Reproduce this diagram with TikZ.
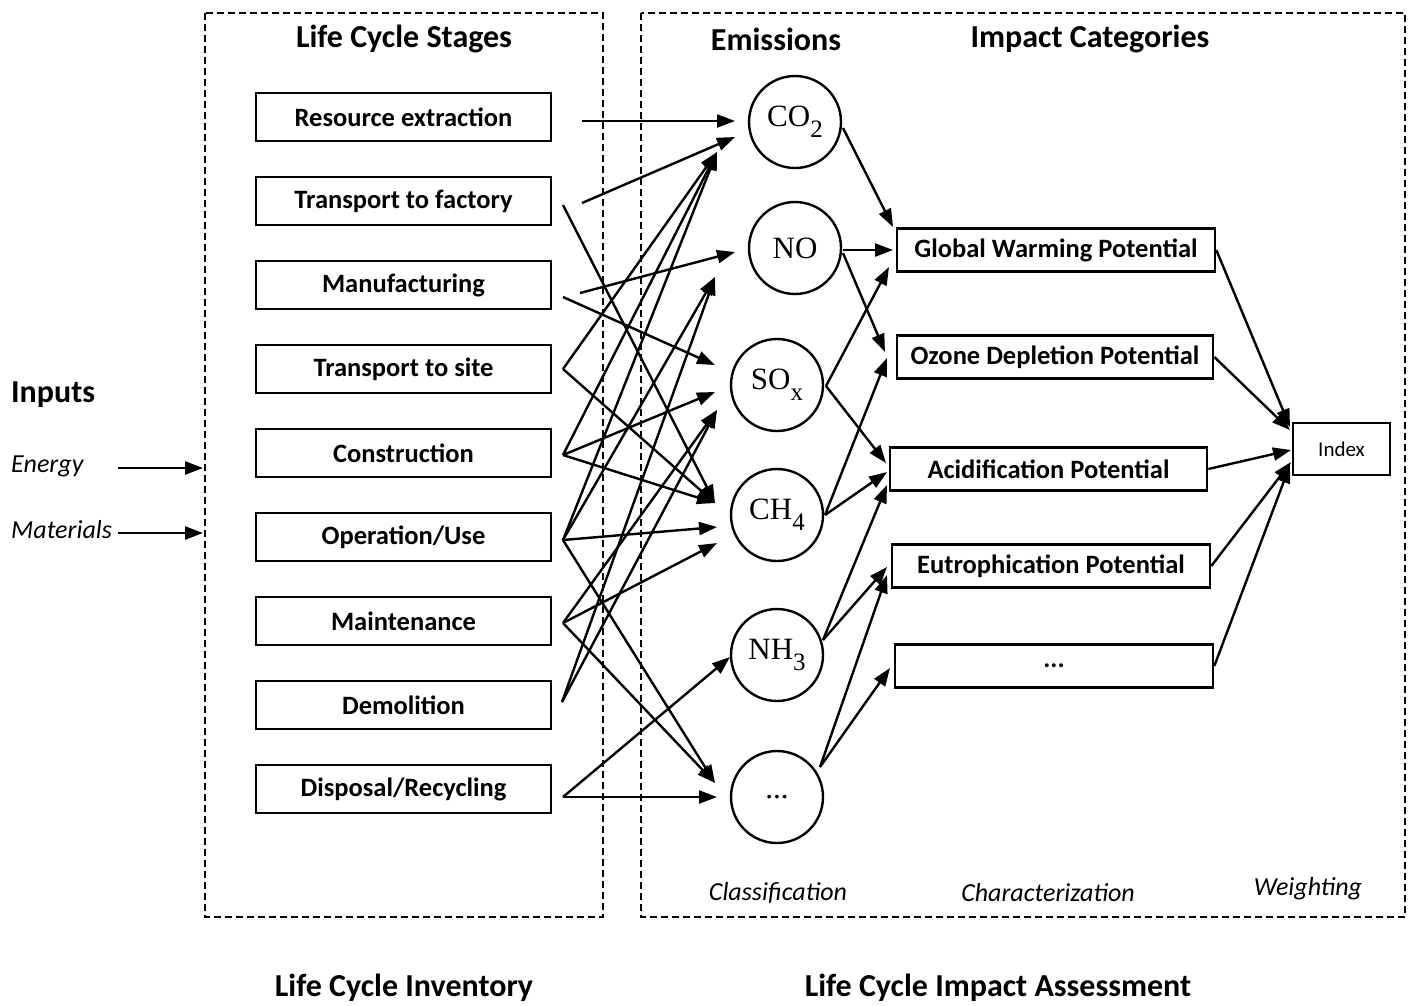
\documentclass[tikz,border=0pt]{standalone}
\usepackage{fontspec}
\setmainfont{Carlito}
\newfontfamily\tnr{Liberation Serif}
\usetikzlibrary{arrows.meta}
\newcommand{\mysub}[1]{\raisebox{-0.75ex}{\fontsize{25}{27}\selectfont #1}}
\begin{document}
\begin{tikzpicture}[x=1pt,y=-1pt,
  stagebox/.style={draw, line width=2.6pt, minimum width=295pt, minimum height=48pt, inner sep=0pt, font=\bfseries\fontsize{26.5}{30}\selectfont},
  emis/.style={circle, draw, line width=2.4pt, minimum size=92pt, inner sep=0pt, font=\tnr\fontsize{31}{35}\selectfont},
  impact/.style={draw, line width=2.6pt, minimum height=43pt, inner sep=0pt, font=\bfseries\fontsize{26.5}{30}\selectfont},
  arr/.style={line width=2.4pt, -{Triangle[length=18pt,width=13pt]}},
  frame/.style={dash pattern=on 7pt off 4pt, line width=2.3pt},
  title/.style={font=\bfseries\fontsize{32}{36}\selectfont},
  note/.style={font=\itshape\fontsize{26}{30}\selectfont}
]
\useasboundingbox (0,0) rectangle (1410,1005);
% frames
\draw[frame] (205,13) rectangle (603,917);
\draw[frame] (641,13) rectangle (1405,917);
% titles
\node[title] (tstages) at (404,39) {Life Cycle Stages};
\node[title] (temis) at (776,39) {Emissions};
\node[title] (timpact) at (1090,39) {Impact Categories};
\node[title] (tlci) at (404,988) {Life Cycle Inventory};
\node[title] (tlcia) at (998,988) {Life Cycle Impact Assessment};
\node[title, anchor=west, inner sep=0pt] (tinputs) at (11,395) {Inputs};
\node[note, anchor=west, inner sep=0pt] (energy) at (11,466) {Energy};
\node[note, anchor=west, inner sep=0pt] (materials) at (11,530) {Materials};
\node[note] (class) at (778,893) {Classification};
\node[note] (charac) at (1048,893) {Characterization};
\node[note] (weight) at (1308,889) {Weighting};
\coordinate (ein) at (203,468);
\coordinate (min) at (203,533);
\coordinate (eout) at (118,468);
\coordinate (mout) at (118,533);
\draw[arr] (eout) -- (ein);
\draw[arr] (mout) -- (min);
% stages
\node[stagebox] (s1) at (403.5,117) {Resource extraction};
\node[stagebox] (s2) at (403.5,201) {Transport to factory};
\node[stagebox] (s3) at (403.5,285) {Manufacturing};
\node[stagebox] (s4) at (403.5,369) {Transport to site};
\node[stagebox] (s5) at (403.5,453) {Construction};
\node[stagebox] (s6) at (403.5,537) {Operation/Use};
\node[stagebox] (s7) at (403.5,621) {Maintenance};
\node[stagebox] (s8) at (403.5,705) {Demolition};
\node[stagebox] (s9) at (403.5,789) {Disposal/Recycling};
% emissions
\node[emis] (co2) at (795,122) {CO\mysub{2}};
\node[emis] (no) at (795,248) {NO};
\node[emis] (sox) at (777,385) {SO\mysub{x}};
\node[emis] (ch4) at (777,515) {CH\mysub{4}};
\node[emis] (nh3) at (777,655) {NH\mysub{3}};
\node[emis] (edots) at (777,797) {...};
% impacts
\node[impact, minimum width=318pt] (gwp) at (1056,250) {Global Warming Potential};
\node[impact, minimum width=316pt] (odp) at (1055,357) {Ozone Depletion Potential};
\node[impact, minimum width=317pt] (acid) at (1048.5,469) {Acidification Potential};
\node[impact, minimum width=318pt] (eut) at (1051,566) {Eutrophication Potential};
\node[impact, minimum width=318pt] (idots) at (1054,666) {...};
\node[draw, line width=2.4pt, minimum width=97pt, minimum height=52pt, inner sep=0pt, font=\fontsize{21}{24}\selectfont] (index) at (1341.5,449) {Index};
% stage sources
\coordinate (r1) at (582,121);
\coordinate (t1a) at (582,203);
\coordinate (t1b) at (563,205);
\coordinate (m1a) at (580,293);
\coordinate (m1b) at (563,297);
\coordinate (ts) at (563,369);
\coordinate (cs) at (563,455);
\coordinate (os) at (563,540);
\coordinate (mt) at (563,623);
\coordinate (ds) at (562,702);
\coordinate (dp) at (563,797);
% emission tips
\coordinate (co2a) at (735,121);
\coordinate (co2b) at (735,137);
\coordinate (co2c) at (717,152);
\coordinate (noa) at (735,252);
\coordinate (nob) at (715,277);
\coordinate (soa) at (715,365);
\coordinate (sob) at (715,392);
\coordinate (soc) at (717,410);
\coordinate (cha) at (715,503);
\coordinate (chb) at (717,527);
\coordinate (chc) at (717,543);
\coordinate (nhx) at (730,657);
\coordinate (dta) at (715,783);
\coordinate (dtb) at (717,797);
\draw[arr] (r1) -- (co2a);
\draw[arr] (t1a) -- (co2b);
\draw[arr] (t1b) -- (cha);
\draw[arr] (m1a) -- (noa);
\draw[arr] (m1b) -- (soa);
\draw[arr] (ts) -- (co2c);
\draw[arr] (ts) -- (cha);
\draw[arr] (cs) -- (co2c);
\draw[arr] (cs) -- (sob);
\draw[arr] (cs) -- (cha);
\draw[arr] (os) -- (co2c);
\draw[arr] (os) -- (nob);
\draw[arr] (os) -- (chb);
\draw[arr] (os) -- (dta);
\draw[arr] (mt) -- (soc);
\draw[arr] (mt) -- (chc);
\draw[arr] (mt) -- (dta);
\draw[arr] (ds) -- (nob);
\draw[arr] (ds) -- (soc);
\draw[arr] (dp) -- (nhx);
\draw[arr] (dp) -- (dtb);
% emission -> impact
\coordinate (co2o) at (843,128);
\coordinate (noo1) at (843,250);
\coordinate (noo2) at (843,253);
\coordinate (soo) at (826,386);
\coordinate (cho) at (825,515);
\coordinate (nho) at (823,640);
\coordinate (dto) at (820,767);
\coordinate (gwpa) at (893,227);
\coordinate (gwpb) at (893,250);
\coordinate (gwpc) at (889,267);
\coordinate (odpa) at (885,352);
\coordinate (odpb) at (887,358);
\coordinate (acida) at (886,463);
\coordinate (acidb) at (887,472);
\coordinate (acidc) at (887,485);
\coordinate (euta) at (887,567);
\coordinate (eutb) at (887,575);
\coordinate (idta) at (890,668);
\draw[arr] (co2o) -- (gwpa);
\draw[arr] (noo1) -- (gwpb);
\draw[arr] (noo2) -- (odpa);
\draw[arr] (soo) -- (gwpc);
\draw[arr] (soo) -- (acida);
\draw[arr] (cho) -- (odpb);
\draw[arr] (cho) -- (acidb);
\draw[arr] (nho) -- (acidc);
\draw[arr] (nho) -- (euta);
\draw[arr] (dto) -- (eutb);
\draw[arr] (dto) -- (idta);
% impact -> index
\coordinate (ia) at (1290,427);
\coordinate (ib) at (1290,430);
\coordinate (ic) at (1291,450);
\coordinate (id) at (1291,462);
\coordinate (ie) at (1290,465);
\draw[arr] (gwp.east) -- (ia);
\draw[arr] (odp.east) -- (ib);
\draw[arr] (acid.east) -- (ic);
\draw[arr] (eut.east) -- (id);
\draw[arr] (idots.east) -- (ie);
\end{tikzpicture}
\end{document}
